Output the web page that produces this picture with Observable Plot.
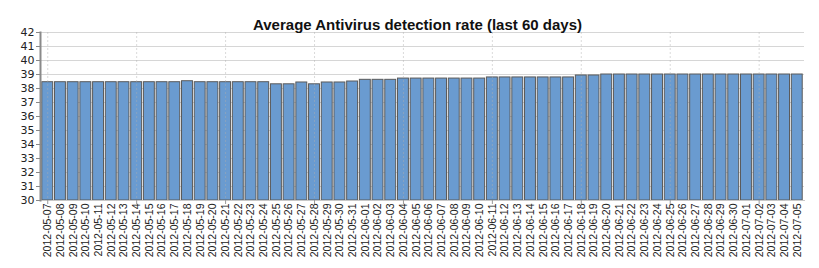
<!DOCTYPE html>
<html>
<head>
<meta charset="utf-8">
<script src="https://cdn.jsdelivr.net/npm/d3@7"></script>
<script src="https://cdn.jsdelivr.net/npm/@observablehq/plot@0.6"></script>
<style>
  html, body { margin: 0; padding: 0; background: #fff; }
  #chart svg { display: block; }
</style>
</head>
<body>
<div id="chart"></div>
<script>
const title = "Average Antivirus detection rate (last 60 days)";

const dates = [
  "2012-05-07","2012-05-08","2012-05-09","2012-05-10","2012-05-11","2012-05-12","2012-05-13",
  "2012-05-14","2012-05-15","2012-05-16","2012-05-17","2012-05-18","2012-05-19","2012-05-20",
  "2012-05-21","2012-05-22","2012-05-23","2012-05-24","2012-05-25","2012-05-26","2012-05-27",
  "2012-05-28","2012-05-29","2012-05-30","2012-05-31","2012-06-01","2012-06-02","2012-06-03",
  "2012-06-04","2012-06-05","2012-06-06","2012-06-07","2012-06-08","2012-06-09","2012-06-10",
  "2012-06-11","2012-06-12","2012-06-13","2012-06-14","2012-06-15","2012-06-16","2012-06-17",
  "2012-06-18","2012-06-19","2012-06-20","2012-06-21","2012-06-22","2012-06-23","2012-06-24",
  "2012-06-25","2012-06-26","2012-06-27","2012-06-28","2012-06-29","2012-06-30","2012-07-01",
  "2012-07-02","2012-07-03","2012-07-04","2012-07-05"
];

const rates = [
  38.45, 38.45, 38.45, 38.45, 38.45, 38.45, 38.45,
  38.45, 38.45, 38.45, 38.45, 38.52, 38.45, 38.45,
  38.45, 38.45, 38.45, 38.45, 38.30, 38.30, 38.43,
  38.30, 38.43, 38.43, 38.50, 38.62, 38.62, 38.62,
  38.71, 38.71, 38.71, 38.71, 38.71, 38.71, 38.71,
  38.79, 38.79, 38.79, 38.79, 38.79, 38.79, 38.79,
  38.93, 38.93, 39.00, 39.00, 39.00, 39.00, 39.00,
  39.00, 39.00, 39.00, 39.00, 39.00, 39.00, 39.00,
  39.00, 39.00, 39.00, 39.00
];

const weeklyTicks = [
  "2012-05-07","2012-05-14","2012-05-21","2012-05-28","2012-06-04",
  "2012-06-11","2012-06-18","2012-06-25","2012-07-02"
];

const yTicks = [30, 31, 32, 33, 34, 35, 36, 37, 38, 39, 40, 41, 42];

const data = dates.map((d, i) => ({date: d, rate: rates[i]}));

const chart = Plot.plot({
  width: 819,
  height: 268,
  marginLeft: 40,
  marginRight: 15,
  marginTop: 32,
  marginBottom: 68,
  style: {background: "#fff", fontFamily: "'DejaVu Sans', sans-serif", color: "#333"},
  x: {type: "band", domain: dates, padding: 0.14, label: null},
  y: {domain: [30, 42], label: null},
  marks: [
    Plot.gridY(yTicks, {stroke: "#d6d6d6", strokeOpacity: 1}),
    Plot.barY(data, {x: "date", y1: 30, y2: "rate", fill: "#6a9bd0", stroke: "#5a5a5a", strokeWidth: 1}),
    Plot.gridX(weeklyTicks, {stroke: "#b0b0b0", strokeOpacity: 0.45, strokeDasharray: "2,2"}),
    Plot.frame({anchor: "bottom", stroke: "#c8c8c8"}),
    Plot.frame({anchor: "left", stroke: "#8a8a8a", strokeWidth: 2}),
    Plot.axisY(yTicks, {tickSize: 4, tickPadding: 2, fontSize: 11, stroke: "#888", fill: "#222", label: null}),
    Plot.axisX({tickSize: 0, tickPadding: 3, tickRotate: -90, fontSize: 10.5, fontFamily: "'Liberation Sans', Arial, sans-serif", fill: "#222", label: null}),
    Plot.axisX(weeklyTicks, {tickSize: 4, tickFormat: () => "", stroke: "#999", label: null}),
    Plot.text([title], {frameAnchor: "top", dy: -13, dx: -5, fontSize: 15, fontWeight: "bold", fontFamily: "'Liberation Sans', Arial, sans-serif", fill: "#111"})
  ]
});

document.getElementById("chart").appendChild(chart);
</script>
</body>
</html>
